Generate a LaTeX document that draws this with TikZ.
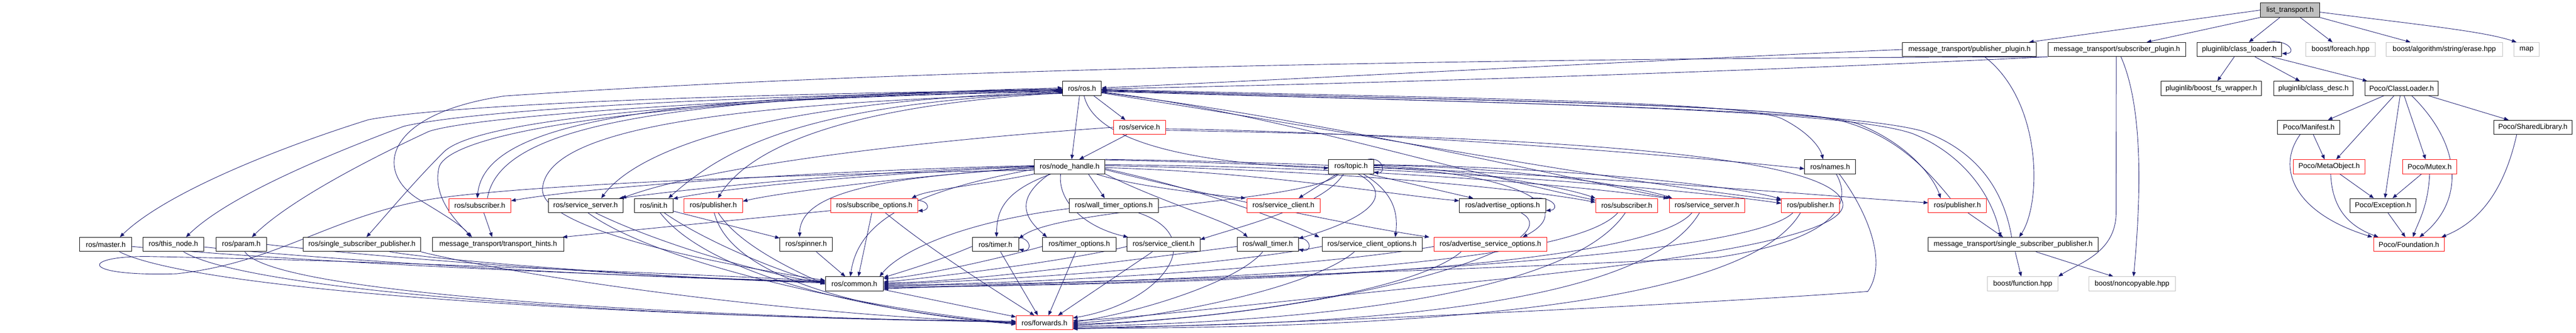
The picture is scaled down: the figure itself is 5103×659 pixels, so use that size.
\documentclass[tikz,border=0pt]{standalone}
\usepackage{fontspec}
\setmainfont{Liberation Sans}
\usetikzlibrary{arrows.meta}
\definecolor{edgec}{HTML}{191970}
\definecolor{grayb}{HTML}{BFBFBF}
\pgfdeclarelayer{bg}
\pgfsetlayers{bg,main}
\newcommand\nfont{\fontsize{14.3}{16}\selectfont}
\begin{document}
\begin{tikzpicture}[x=1pt,y=-1pt,
  nb/.style={draw=black, line width=1pt, fill=white, minimum height=28pt, inner sep=0pt, font=\nfont, minimum width=#1},
  nr/.style={nb=#1, draw=red},
  ng/.style={nb=#1, draw=grayb},
  nroot/.style={nb=#1, fill=grayb},
  e/.style={draw=edgec, line width=0.9pt, -{Triangle[length=9pt,width=7pt]}}]
\useasboundingbox (0,0) rectangle (5103,659);
% ---------- nodes ----------
\node[nroot=117pt] (list) at (4536.5,20) {list\_transport.h};
\node[nb=265pt] (pubplug) at (3901.5,98) {message\_transport/publisher\_plugin.h};
\node[nb=273pt] (subplug) at (4193.5,98) {message\_transport/subscriber\_plugin.h};
\node[nb=168pt] (classloader) at (4436,98) {pluginlib/class\_loader.h};
\node[ng=137pt] (foreach) at (4636.5,98) {boost/foreach.hpp};
\node[ng=230pt] (erase) at (4842,98) {boost/algorithm/string/erase.hpp};
\node[ng=50pt] (map) at (5005,98) {map};
\node[nb=77pt] (rosh) at (2143.5,175) {ros/ros.h};
\node[nb=199pt] (fswrap) at (4380.5,175) {pluginlib/boost\_fs\_wrapper.h};
\node[nb=158pt] (classdesc) at (4583,175) {pluginlib/class\_desc.h};
\node[nb=145pt] (pococl) at (4757.5,175) {Poco/ClassLoader.h};
\node[nr=103pt] (service) at (2257.5,252) {ros/service.h};
\node[nb=123pt] (manifest) at (4573.5,252) {Poco/Manifest.h};
\node[nb=155pt] (shlib) at (5017.5,252) {Poco/SharedLibrary.h};
\node[nb=140pt] (nh) at (2119,330) {ros/node\_handle.h};
\node[nb=89pt] (topic) at (2676.5,330) {ros/topic.h};
\node[nb=101pt] (names) at (3625.5,330) {ros/names.h};
\node[nr=142pt] (metaobj) at (4614,330) {Poco/MetaObject.h};
\node[nr=108pt] (mutex) at (4813,330) {Poco/Mutex.h};
\node[nr=123pt] (subA) at (950.5,407) {ros/subscriber.h};
\node[nb=148pt] (ssrvA) at (1160,407) {ros/service\_server.h};
\node[nb=76pt] (init) at (1295,407) {ros/init.h};
\node[nr=116pt] (pubA) at (1413,407) {ros/publisher.h};
\node[nr=172pt] (subopts) at (1732,407) {ros/subscribe\_options.h};
\node[nb=177pt] (wtopts) at (2206.5,407) {ros/wall\_timer\_options.h};
\node[nr=145pt] (sclA) at (2542.5,407) {ros/service\_client.h};
\node[nb=171pt] (advopts) at (2976.5,407) {ros/advertise\_options.h};
\node[nr=123pt] (subB) at (3222.5,407) {ros/subscriber.h};
\node[nr=149pt] (ssrvB) at (3381.5,407) {ros/service\_server.h};
\node[nr=115pt] (pubB) at (3586.5,407) {ros/publisher.h};
\node[nr=115pt] (pubC) at (3877.5,407) {ros/publisher.h};
\node[nb=131pt] (exc) at (4720.5,407) {Poco/Exception.h};
\node[nb=103pt] (master) at (209.5,484) {ros/master.h};
\node[nb=121pt] (thisnode) at (343.5,484) {ros/this\_node.h};
\node[nb=100pt] (param) at (478,484) {ros/param.h};
\node[nb=232pt] (rssp) at (717,484) {ros/single\_subscriber\_publisher.h};
\node[nb=260pt] (hints) at (987,484) {message\_transport/transport\_hints.h};
\node[nb=104pt] (spinner) at (1597,484) {ros/spinner.h};
\node[nb=92pt] (timer) at (1972,484) {ros/timer.h};
\node[nb=146pt] (topts) at (2138,484) {ros/timer\_options.h};
\node[nb=144pt] (sclB) at (2305,484) {ros/service\_client.h};
\node[nb=121pt] (wtimer) at (2511.5,484) {ros/wall\_timer.h};
\node[nb=198pt] (scopts) at (2718,484) {ros/service\_client\_options.h};
\node[nr=223pt] (asopts) at (2952.5,484) {ros/advertise\_service\_options.h};
\node[nb=336pt] (mssp) at (3988,484) {message\_transport/single\_subscriber\_publisher.h};
\node[nr=140pt] (found) at (4772,484) {Poco/Foundation.h};
\node[nb=115pt] (common) at (1692.5,562) {ros/common.h};
\node[ng=140pt] (function) at (4007,562) {boost/function.hpp};
\node[ng=171pt] (noncopy) at (4223.5,562) {boost/noncopyable.hpp};
\node[nr=112pt] (forwards) at (2069,639) {ros/forwards.h};
% ---------- edges ----------
\begin{pgfonlayer}{bg}
\fill[white] (0,0) rectangle (5103,659);
% top
\draw[e] (list.west) -- ([xshift=-15pt]pubplug.north east);
\draw[e] (list.south west) -- ([xshift=-78pt]subplug.north east);
\draw[e] ([xshift=-20pt]list.south) -- ([xshift=19pt]classloader.north);
\draw[e] ([xshift=20pt]list.south) -- ([xshift=-16pt]foreach.north);
\draw[e] (list.south east) -- ([xshift=-67pt]erase.north);
\draw[e] ([yshift=-4pt]list.east) .. controls (4800,50) and (4920,62) .. ([xshift=-20pt]map.north);
\draw[e] ([xshift=-30pt]classloader.north east) .. controls (4535,76) and (4550,106) .. ([yshift=-8pt]classloader.east);
\draw[e] ([xshift=-10pt]classloader.south) -- ([xshift=12pt]fswrap.north);
\draw[e] ([xshift=31pt]classloader.south) -- ([xshift=-27pt]classdesc.north);
\draw[e] ([xshift=-20pt]classloader.south east) -- ([xshift=5pt]pococl.north west);
% Poco
\draw[e] ([xshift=-35pt]pococl.south) -- ([xshift=38pt]manifest.north);
\draw[e] ([xshift=-15pt]pococl.south) -- ([xshift=14pt]metaobj.north);
\draw[e] ([xshift=-3pt]pococl.south) -- ([xshift=4pt]exc.north);
\draw[e] ([xshift=5pt]pococl.south) -- ([xshift=-8pt]mutex.north);
\draw[e] ([xshift=20pt]pococl.south) .. controls (4880,290) and (4880,400) .. ([xshift=21pt]found.north);
\draw[e] ([xshift=-20pt]pococl.south east) -- ([xshift=-48pt]shlib.north);
\draw[e] ([xshift=9pt]manifest.south) -- ([xshift=-9pt]metaobj.north);
\draw[e] ([xshift=-17pt]manifest.south) .. controls (4510,330) and (4540,420) .. ([xshift=-2pt]found.north west);
\draw[e] ([xshift=3pt]metaobj.south) .. controls (4620,420) and (4660,450) .. ([xshift=10pt]found.north west);
\draw[e] ([xshift=21pt]metaobj.south) -- ([xshift=-18pt]exc.north);
\draw[e] ([xshift=-16pt]mutex.south) -- ([xshift=19pt]exc.north);
\draw[e] (mutex.south) .. controls (4810,410) and (4790,440) .. ([xshift=8pt]found.north);
\draw[e] ([xshift=10pt]exc.south) -- ([xshift=-7pt]found.north);
\draw[e] ([xshift=-32pt]shlib.south) .. controls (4960,380) and (4910,440) .. ([xshift=-6pt]found.north east);
% plugins
\draw[e] ([xshift=-1pt]subplug.south) -- (4192,420) .. controls (4192,500) and (4120,520) .. (function.north east);
\draw[e] ([xshift=8pt]subplug.south) .. controls (4240,200) and (4245,350) .. ([xshift=3pt]noncopy.north);
\draw[e] ([xshift=4pt]mssp.south) -- ([xshift=-3pt]function.north);
\draw[e] ([xshift=45pt]mssp.south) -- ([xshift=-37pt]noncopy.north);
\draw[e] ([xshift=30pt]pubplug.south) .. controls (4045,200) and (4045,400) .. ([xshift=12pt]mssp.north);
\draw[e] ([xshift=21pt]pubC.south) -- ([xshift=-20pt]mssp.north);
\draw[e] (pubplug.west) .. controls (3300,118) and (2600,155) .. ([yshift=1pt]rosh.east);
\draw[e] (subplug.south west) .. controls (3400,145) and (2600,168) .. ([yshift=-1pt]rosh.east);
\draw[e] (subplug.south west) .. controls (3000,115) and (1800,135) .. (1000,190) .. controls (760,225) and (740,340) .. (830,395) .. controls (880,425) and (920,450) .. ([xshift=-56pt]hints.north);
% ros.h
\draw[e] ([yshift=-3pt]rosh.west) .. controls (1500,185) and (900,205) .. (730,237) .. controls (560,290) and (330,380) .. ([xshift=28pt]master.north);
\draw[e] ([yshift=-4pt]rosh.west) .. controls (1500,188) and (950,215) .. (800,250) .. controls (640,310) and (450,390) .. ([xshift=25pt]thisnode.north);
\draw[e] ([yshift=-5pt]rosh.west) .. controls (1500,192) and (950,228) .. (850,260) .. controls (720,320) and (570,400) .. ([xshift=21pt]param.north);
\draw[e] ([yshift=-6pt]rosh.west) .. controls (1400,195) and (950,235) .. (880,300) .. controls (820,360) and (770,420) .. ([xshift=9pt]rssp.north);
\draw[e] ([yshift=-2pt]rosh.west) .. controls (1400,192) and (900,250) .. (870,330) .. controls (855,390) and (905,440) .. ([xshift=-52pt]hints.north);
\draw[e] ([yshift=-1pt]rosh.west) .. controls (1300,190) and (960,240) .. ([xshift=-5pt]subA.north);
\draw[e] ([xshift=15pt]subA.north) .. controls (990,250) and (1300,195) .. ([yshift=1pt]rosh.west);
\draw[e] ([yshift=-7pt]rosh.west) .. controls (1500,200) and (1260,300) .. ([xshift=31pt]ssrvA.north);
\draw[e] ([yshift=-8pt]rosh.west) .. controls (1600,205) and (1440,290) .. ([xshift=29pt]init.north);
\draw[e] ([yshift=-9pt]rosh.west) .. controls (1650,210) and (1480,300) .. ([xshift=9pt]pubA.north);
\draw[e] ([yshift=-10pt]rosh.west) .. controls (1400,205) and (1090,260) .. (1075,370) .. controls (1060,450) and (1400,520) .. ([yshift=7pt]common.west);
\draw[e] ([xshift=-5pt]rosh.south) -- ([xshift=4pt]nh.north);
\draw[e] ([xshift=23pt]rosh.south) -- ([xshift=-28pt]service.north);
\draw[e] ([xshift=4pt]rosh.south) .. controls (2170,290) and (2400,325) .. ([yshift=-3pt]topic.west);
\draw[e] ([yshift=-2pt]rosh.east) .. controls (2900,195) and (3450,200) .. (3530,235) .. controls (3580,260) and (3605,290) .. ([xshift=-14pt]names.north);
\draw[e] ([yshift=-3pt]rosh.east) .. controls (2900,200) and (3550,205) .. (3680,245) .. controls (3780,285) and (3830,350) .. ([xshift=-33pt]pubC.north);
\draw[e] ([xshift=-14pt]pubC.north) .. controls (3820,340) and (3760,270) .. (3650,240) .. controls (3500,205) and (2900,198) .. ([yshift=-4pt]rosh.east);
\draw[e] ([yshift=-5pt]rosh.east) .. controls (3000,205) and (3650,215) .. (3790,265) .. controls (3900,310) and (3950,400) .. ([xshift=-25pt]mssp.north);
\draw[e] ([xshift=-3pt]mssp.north) .. controls (3970,380) and (3920,300) .. (3810,260) .. controls (3650,215) and (3000,205) .. ([yshift=-6pt]rosh.east);
\draw[e] ([yshift=-7pt]rosh.east) .. controls (2500,220) and (2850,330) .. ([yshift=-4pt]subB.north west);
\draw[e] ([yshift=-8pt]rosh.east) .. controls (2600,235) and (3000,330) .. ([xshift=3pt]ssrvB.north west);
\draw[e] ([yshift=-9pt]rosh.east) .. controls (2700,265) and (3200,360) .. ([yshift=-4pt]pubB.north west);
% service.h
\draw[e] ([xshift=-25pt]service.south) -- ([xshift=19pt]nh.north);
\draw[e] ([yshift=-3pt]service.east) .. controls (2800,262) and (3400,315) .. ([yshift=-4pt]names.west);
\draw[e] (service.west) .. controls (1800,280) and (1400,330) .. ([xshift=-3pt]ssrvA.north east);
\draw[e] ([yshift=-6pt]service.east) .. controls (3000,270) and (3620,300) .. (3650,400) .. controls (3670,470) and (3300,520) .. (2900,560) .. controls (2500,600) and (2250,630) .. ([yshift=4pt]forwards.east);
% node_handle.h
\draw[e] ([yshift=2pt]nh.west) .. controls (1700,335) and (1200,365) .. ([yshift=-5pt]subA.north east);
\draw[e] ([yshift=1pt]nh.west) .. controls (1700,340) and (1400,370) .. ([xshift=-8pt]ssrvA.north east);
\draw[e] (nh.west) .. controls (1750,342) and (1450,370) .. ([yshift=-1pt]init.north east);
\draw[e] ([yshift=-1pt]nh.west) .. controls (1800,350) and (1550,380) .. ([yshift=-6pt]pubA.north east);
\draw[e] ([yshift=-3pt]nh.west) .. controls (1750,350) and (1585,380) .. ([xshift=-13pt]spinner.north);
\draw[e] ([yshift=-11pt]init.east) -- ([yshift=-2pt]spinner.north west);
\draw[e] ([yshift=-5pt]nh.west) .. controls (1800,380) and (1700,440) .. ([xshift=-8pt]common.north);
\draw[e] ([yshift=-7pt]nh.west) .. controls (1500,345) and (1000,370) .. (850,395) .. controls (650,430) and (550,520) .. (350,542) .. controls (150,548) and (160,505) .. (300,508) .. controls (700,515) and (1300,540) .. ([yshift=6pt]common.west);
\draw[e] (nh.south west) .. controls (1950,365) and (1840,375) .. ([xshift=74pt]subopts.north);
\draw[e] ([yshift=-4pt]subopts.north east) .. controls (1842,399) and (1842,416) .. ([yshift=4pt]subopts.south east);
\draw[e] ([xshift=-37pt]nh.south) .. controls (1985,380) and (1975,420) .. ([xshift=2pt]timer.north);
\draw[e] ([xshift=-40pt]nh.south) .. controls (2000,400) and (2040,440) .. ([xshift=-64pt]topts.north);
\draw[e] ([xshift=-18pt]nh.south) .. controls (2095,400) and (2150,450) .. ([xshift=2pt]sclB.north west);
\draw[e] ([xshift=37pt]nh.south) -- ([xshift=-18pt]wtopts.north);
\draw[e] ([xshift=-18pt]nh.south east) .. controls (2250,370) and (2400,385) .. ([xshift=-2pt]sclA.north west);
\draw[e] (nh.south east) .. controls (2300,400) and (2440,440) .. ([xshift=-40pt]wtimer.north);
\draw[e] ([yshift=-2pt]nh.east) .. controls (2500,340) and (2750,385) .. ([yshift=-5pt]advopts.north west);
\draw[e] ([yshift=-4pt]nh.east) .. controls (2400,380) and (2550,440) .. ([xshift=-5pt]scopts.north west);
\draw[e] ([yshift=-6pt]nh.east) .. controls (2450,400) and (2700,450) .. ([xshift=-9pt]asopts.north west);
\draw[e] ([yshift=2pt]nh.east) .. controls (2600,335) and (3000,370) .. ([yshift=-8pt]subB.north west);
\draw[e] ([yshift=4pt]nh.east) .. controls (2700,330) and (3100,365) .. ([xshift=-2pt]ssrvB.north west);
\draw[e] ([yshift=-1pt]nh.north east) .. controls (2800,330) and (3300,370) .. ([yshift=-10pt]pubB.north west);
\draw[e] (nh.north east) .. controls (2900,325) and (3500,380) .. ([yshift=-9pt]pubC.north west);
% topic.h
\draw[e] ([xshift=-12pt]topic.north east) .. controls (2742,310) and (2745,345) .. ([yshift=4pt]topic.south east);
\draw[e] ([xshift=-28pt]topic.south) -- ([xshift=30pt]sclA.north);
\draw[e] ([xshift=-10pt]topic.south east) -- ([xshift=-58pt]advopts.north);
\draw[e] ([xshift=24pt]topic.south) .. controls (2760,380) and (2770,420) .. ([xshift=46pt]scopts.north);
\draw[e] ([xshift=14pt]topic.south) .. controls (2790,400) and (2650,450) .. ([yshift=-3pt]wtimer.north east);
\draw[e] ([yshift=-2pt]topic.east) .. controls (3000,340) and (3130,410) .. ([xshift=64pt]asopts.north);
\draw[e] ([yshift=2pt]topic.east) .. controls (2900,335) and (3100,370) .. (subB.north west);
\draw[e] ([yshift=3pt]topic.east) .. controls (3000,330) and (3250,370) .. ([xshift=6pt]ssrvB.north west);
\draw[e] ([yshift=4pt]topic.east) .. controls (3100,330) and (3450,370) .. ([yshift=-2pt]pubB.north west);
\draw[e] ([xshift=-25pt]topic.south) .. controls (2600,400) and (2100,410) .. ([yshift=-3pt]timer.north east);
\draw[e] ([xshift=-15pt]topic.south) .. controls (2620,410) and (2450,450) .. ([yshift=-5pt]sclB.north east);
\draw[e] ([xshift=-10pt]timer.north east) .. controls (2045,468) and (2045,500) .. ([yshift=5pt]timer.south east);
\draw[e] ([xshift=-10pt]wtimer.north east) .. controls (2600,468) and (2600,500) .. ([yshift=5pt]wtimer.south east);
\draw[e] ([xshift=-30pt]advopts.north east) .. controls (3080,388) and (3090,415) .. ([yshift=-10pt]advopts.east);
% into common.h / forwards.h
\draw[e] ([yshift=-4pt]master.east) .. controls (600,520) and (1300,550) .. ([yshift=5pt]common.west);
\draw[e] ([yshift=-5pt]thisnode.east) .. controls (700,520) and (1300,552) .. ([yshift=4pt]common.west);
\draw[e] (param.east) .. controls (800,515) and (1300,550) .. ([yshift=3pt]common.west);
\draw[e] ([xshift=55pt]rssp.south) .. controls (900,520) and (1400,555) .. ([yshift=2pt]common.west);
\draw[e] ([xshift=27pt]master.south) .. controls (400,580) and (1300,630) .. ([yshift=3pt]forwards.west);
\draw[e] ([xshift=20pt]thisnode.south) .. controls (500,580) and (1300,630) .. ([yshift=2pt]forwards.west);
\draw[e] ([xshift=7pt]param.south) .. controls (540,580) and (1300,625) .. ([yshift=1pt]forwards.west);
\draw[e] (rssp.south east) .. controls (1000,540) and (1500,620) .. (forwards.west);
\draw[e] ([xshift=8pt]subA.south) -- ([xshift=-12pt]hints.north);
\draw[e] ([yshift=-10pt]subopts.west) -- ([xshift=-3pt]hints.north east);
\draw[e] ([xshift=20pt]ssrvA.south) .. controls (1300,480) and (1500,540) .. ([yshift=1pt]common.west);
\draw[e] ([xshift=5pt]ssrvA.south) .. controls (1300,520) and (1700,610) .. ([yshift=-1pt]forwards.west);
\draw[e] ([xshift=21pt]init.south) .. controls (1400,480) and (1550,540) .. (common.west);
\draw[e] ([xshift=13pt]init.south) .. controls (1400,540) and (1700,615) .. ([yshift=-2pt]forwards.west);
\draw[e] ([xshift=10pt]pubA.south) .. controls (1460,480) and (1560,530) .. ([yshift=-1pt]common.west);
\draw[e] ([xshift=2pt]pubA.south) .. controls (1450,560) and (1750,620) .. ([yshift=-3pt]forwards.west);
\draw[e] ([xshift=20pt]spinner.south) -- ([xshift=-18pt]common.north);
\draw[e] ([xshift=-5pt]subopts.south) -- ([xshift=8pt]common.north);
\draw[e] ([xshift=22pt]subopts.south) .. controls (1850,500) and (1980,580) .. ([xshift=-20pt]forwards.north);
\draw[e] ([yshift=3pt]common.south east) -- ([yshift=-3pt]forwards.north west);
\draw[e] ([yshift=-4pt]timer.west) .. controls (1850,520) and (1780,540) .. ([yshift=-2pt]common.north east);
\draw[e] ([xshift=10pt]timer.south) -- ([xshift=-13pt]forwards.north);
\draw[e] ([yshift=-4pt]topts.west) .. controls (1950,520) and (1800,550) .. ([yshift=-4pt]common.north east);
\draw[e] ([xshift=-7pt]topts.south) -- ([xshift=8pt]forwards.north);
\draw[e] ([yshift=-4pt]sclB.west) .. controls (2100,520) and (1800,555) .. ([yshift=4pt]common.east);
\draw[e] ([xshift=-22pt]sclB.south) -- ([xshift=27pt]forwards.north);
\draw[e] ([yshift=-6pt]wtopts.west) .. controls (1900,440) and (1780,500) .. ([xshift=-8pt]common.north east);
\draw[e] ([xshift=-40pt]wtopts.south east) .. controls (2400,470) and (2300,600) .. ([yshift=-5pt]forwards.north east);
\draw[e] ([yshift=-4pt]wtimer.west) .. controls (2200,520) and (1900,560) .. ([yshift=2pt]common.east);
\draw[e] ([xshift=-10pt]wtimer.south) .. controls (2450,560) and (2250,620) .. ([yshift=1pt]forwards.east);
\draw[e] ([yshift=-4pt]scopts.west) .. controls (2400,530) and (1900,560) .. (common.east);
\draw[e] ([xshift=-35pt]scopts.south) .. controls (2600,570) and (2300,630) .. ([yshift=-1pt]forwards.east);
\draw[e] ([yshift=-4pt]asopts.west) .. controls (2600,530) and (2000,565) .. ([yshift=-2pt]common.east);
\draw[e] ([xshift=-58pt]asopts.south) .. controls (2800,580) and (2400,635) .. ([yshift=-3pt]forwards.east);
\draw[e] ([xshift=37pt]advopts.south) .. controls (3120,480) and (2700,620) .. ([yshift=-5pt]forwards.east);
\draw[e] ([xshift=-18pt]subB.south) .. controls (3100,540) and (2200,560) .. ([yshift=-4pt]common.east);
\draw[e] ([xshift=-3pt]subB.south) .. controls (3100,600) and (2500,640) .. ([yshift=-7pt]forwards.east);
\draw[e] ([xshift=-30pt]ssrvB.south) .. controls (3250,540) and (2300,565) .. ([yshift=-6pt]common.east);
\draw[e] ([xshift=-15pt]ssrvB.south) .. controls (3250,620) and (2600,645) .. ([yshift=-9pt]forwards.east);
\draw[e] ([xshift=-35pt]pubB.south) .. controls (3450,520) and (2400,560) .. ([yshift=-8pt]common.east);
\draw[e] ([xshift=-20pt]pubB.south) .. controls (3450,620) and (2700,650) .. ([yshift=-11pt]forwards.east);
\draw[e] ([xshift=12pt]names.south) .. controls (3680,420) and (3600,480) .. (3400,510) .. controls (2800,540) and (2000,562) .. ([yshift=-10pt]common.east);
\draw[e] ([xshift=18pt]names.south) .. controls (3700,420) and (3740,520) .. (3700,577) .. controls (3400,600) and (2600,640) .. ([yshift=-12pt]forwards.east);
\end{pgfonlayer}
\end{tikzpicture}
\end{document}
